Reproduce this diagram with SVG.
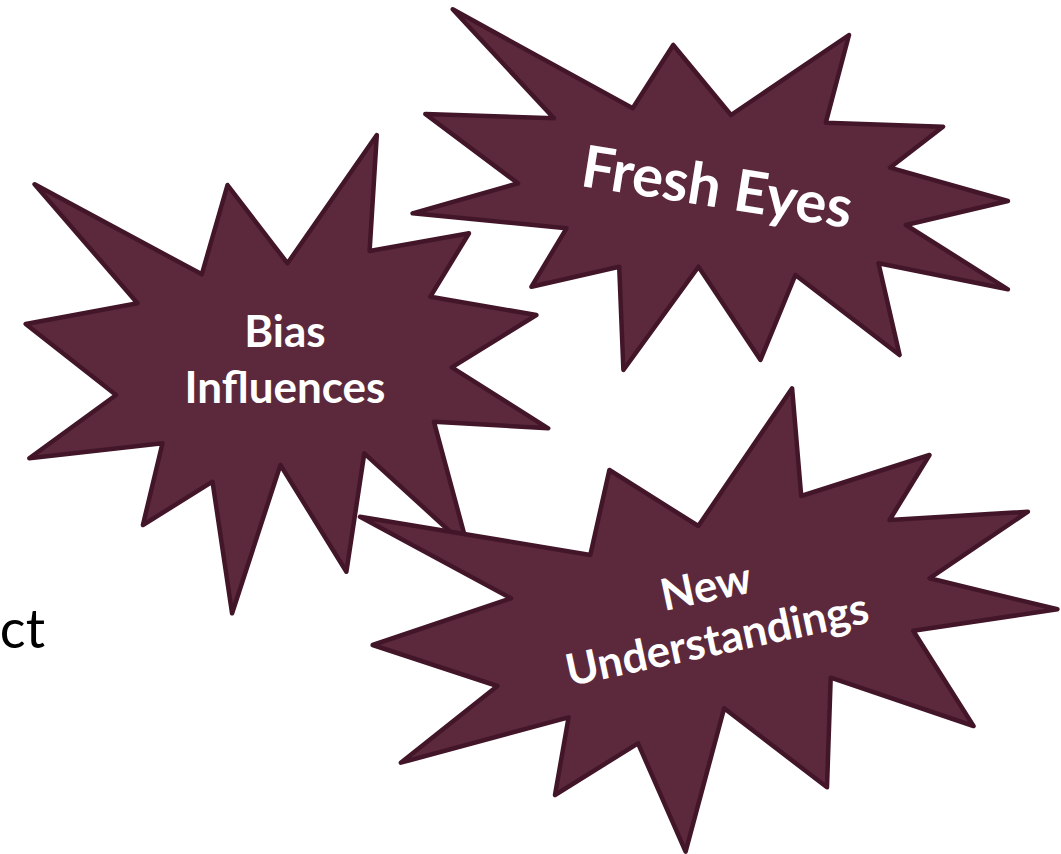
<svg xmlns="http://www.w3.org/2000/svg" width="1061" height="854" viewBox="0 0 1061 854">
<style>
.star{fill:#5C293C;stroke:#421628;stroke-width:4.5;stroke-linejoin:round}
.lbl{font-family:Lato,"Open Sans",sans-serif;font-weight:bold;fill:#FFFFFF;text-anchor:middle}
</style>
<rect width="1061" height="854" fill="#FFFFFF"/>
<text x="45" y="648" font-family="Lato,'Liberation Sans',sans-serif" font-size="54" fill="#000000" text-anchor="end">ct</text>
<g id="fresh-eyes">
<polygon class="star" points="452.7,9.3 553.9,118.3 425.3,114 518,183.3 412.6,213.3 566.5,228.3 531.5,286.7 619.2,266.7 623.4,370 698.5,266.7 760.5,360 795.4,275 899.6,355 878.5,263.3 1007.9,289.3 905.9,225 1007.9,201 889.9,167.7 943,126.7 825.8,122.7 849,35 731,115 673.2,45 632.7,108.3"/>
<text class="lbl" x="714" y="207" font-size="58" transform="rotate(9 714 207)">Fresh Eyes</text>
</g>
<g id="bias-influences">
<polygon class="star" points="34.6,184.3 201.8,274.3 227.5,185 287.5,263.3 376.8,135 369.6,251 469,233.3 430.4,296.7 536.4,315 451.8,367.3 548.2,428.3 433.9,421.7 468,548 364.3,453.3 346.4,571.7 280.4,465 232.1,613.3 212.5,481.7 142.9,525 162.5,443.3 29.3,458.3 116.1,395 25.7,324 137.5,303.3"/>
<text class="lbl" font-size="44"><tspan x="285" y="347">Bias</tspan><tspan x="285" y="403">Influences</tspan></text>
</g>
<g id="new-understandings">
<polygon class="star" points="360,516.7 590.3,555 609.4,470 698.3,526 792.1,388.3 801.2,496 929.5,455 889.6,520 1027.9,511.7 929.5,578.3 1057.4,609.3 913.2,630.7 973.5,726 830.7,677.7 827,787.3 724.1,708.3 685.6,851.7 638,743.3 555,795 568.6,717.3 400.8,762.7 497.4,686 372.7,645 511,598.3"/>
<g transform="rotate(-12 714 625)">
<text class="lbl" font-size="44"><tspan x="714" y="601">New</tspan><tspan x="714" y="655">Understandings</tspan></text>
</g>
</g>
<g id="connectors"></g>
</svg>
